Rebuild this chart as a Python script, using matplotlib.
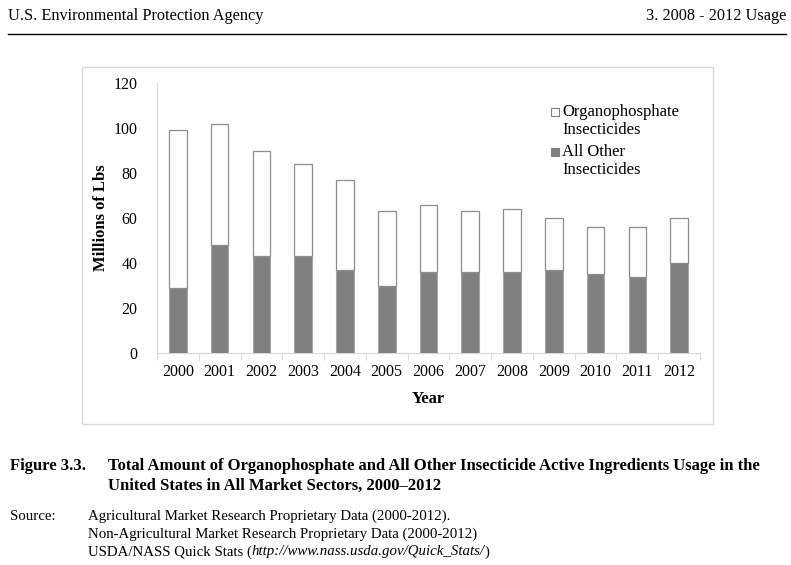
import matplotlib
matplotlib.use("Agg")
import matplotlib.pyplot as plt
from matplotlib.patches import Rectangle
from matplotlib.lines import Line2D
import numpy as np

years = ["2000", "2001", "2002", "2003", "2004", "2005", "2006",
         "2007", "2008", "2009", "2010", "2011", "2012"]
all_other = [29, 48, 43, 43, 37, 30, 36, 36, 36, 37, 35, 34, 40]
organophosphate = [70, 54, 47, 41, 40, 33, 30, 27, 28, 23, 21, 22, 20]
yticks = [0, 20, 40, 60, 80, 100, 120]
legend_labels = [["Organophosphate", "Insecticides"], ["All Other", "Insecticides"]]

plt.rcParams['font.family'] = ['Liberation Serif', 'DejaVu Serif']

W, H = 791, 565
fig = plt.figure(figsize=(W / 100, H / 100), dpi=100)

def fx(px):
    return px / W

def fy(py):
    return 1 - py / H

# Page header
fig.text(fx(8), fy(16), "U.S. Environmental Protection Agency", fontsize=11.7,
         ha="left", va="center")
fig.text(fx(786), fy(16), "3. 2008 - 2012 Usage", fontsize=11.7,
         ha="right", va="center")
fig.add_artist(Line2D([fx(8), fx(786)], [fy(34), fy(34)], color="black", lw=1.0))

# Chart box
fig.add_artist(Rectangle((fx(82), fy(424)), fx(713) - fx(82), fy(67) - fy(424),
                         transform=fig.transFigure, fill=False,
                         edgecolor="#d9d9d9", lw=1.0))

ax = fig.add_axes([fx(157), fy(353), fx(700) - fx(157), fy(83) - fy(353)])
x = np.arange(len(years))
bw = 0.42
ax.bar(x, all_other, width=bw, color="#808080", edgecolor="#a6a6a6", lw=0.8,
       zorder=3)
ax.bar(x, organophosphate, width=bw, bottom=all_other, color="white",
       edgecolor="#8c8c8c", lw=0.9, zorder=3)

ax.set_xlim(-0.5, len(years) - 0.5)
ax.set_ylim(0, 120)
ax.set_yticks(yticks)
ax.set_yticklabels([str(v) for v in yticks], fontsize=11.5)
ax.set_xticks(x)
ax.set_xticklabels(years, fontsize=11.5)
ax.tick_params(axis="y", length=0, pad=14)
ax.tick_params(axis="x", length=0, pad=8)
ax.set_xticks(np.arange(-0.5, len(years), 1.0), minor=True)
ax.tick_params(axis="x", which="minor", length=5, color="#d9d9d9", width=0.8)
for s in ["top", "right"]:
    ax.spines[s].set_visible(False)
for s in ["left", "bottom"]:
    ax.spines[s].set_color("#d9d9d9")
    ax.spines[s].set_linewidth(0.9)

ax.set_ylabel("Millions of Lbs", fontsize=12, fontweight="bold", labelpad=3)
ax.set_xlabel("Year", fontsize=12, fontweight="bold", labelpad=8)

# Legend (drawn manually to match marker alignment with first text line)
legend_styles = [("white", "#7f7f7f"), ("#808080", "#808080")]
baselines = [115.5, 155.5]
for (fc, ec), lines, by in zip(legend_styles, legend_labels, baselines):
    fig.add_artist(Rectangle((fx(551), fy(by)), fx(559) - fx(551), fy(by - 8) - fy(by),
                             transform=fig.transFigure, facecolor=fc,
                             edgecolor=ec, lw=0.8))
    for i, line in enumerate(lines):
        fig.text(fx(562), fy(by + 18.5 * i), line, fontsize=12, ha="left",
                 va="baseline")

# Caption
fig.text(fx(10), fy(466), "Figure 3.3.", fontsize=12, fontweight="bold",
         ha="left", va="center")
fig.text(fx(108), fy(466),
         "Total Amount of Organophosphate and All Other Insecticide Active Ingredients Usage in the",
         fontsize=12, fontweight="bold", ha="left", va="center")
fig.text(fx(108), fy(486), "United States in All Market Sectors, 2000\u20132012",
         fontsize=12, fontweight="bold", ha="left", va="center")

fs = 10.7
fig.text(fx(10), fy(516), "Source:", fontsize=fs, ha="left", va="center")
fig.text(fx(88), fy(516), "Agricultural Market Research Proprietary Data (2000-2012).",
         fontsize=fs, ha="left", va="center")
fig.text(fx(88), fy(534), "Non-Agricultural Market Research Proprietary Data (2000-2012)",
         fontsize=fs, ha="left", va="center")
t1 = fig.text(fx(88), fy(552), "USDA/NASS Quick Stats (", fontsize=fs,
              ha="left", va="center")
fig.canvas.draw()
r = fig.canvas.get_renderer()
bb = t1.get_window_extent(r)
t2 = fig.text(bb.x1 / W, fy(552), "http://www.nass.usda.gov/Quick_Stats/",
              fontsize=fs, style="italic", ha="left", va="center")
bb2 = t2.get_window_extent(r)
fig.text(bb2.x1 / W, fy(552), ")", fontsize=fs, ha="left", va="center")

fig.savefig("out.png", dpi=100)
